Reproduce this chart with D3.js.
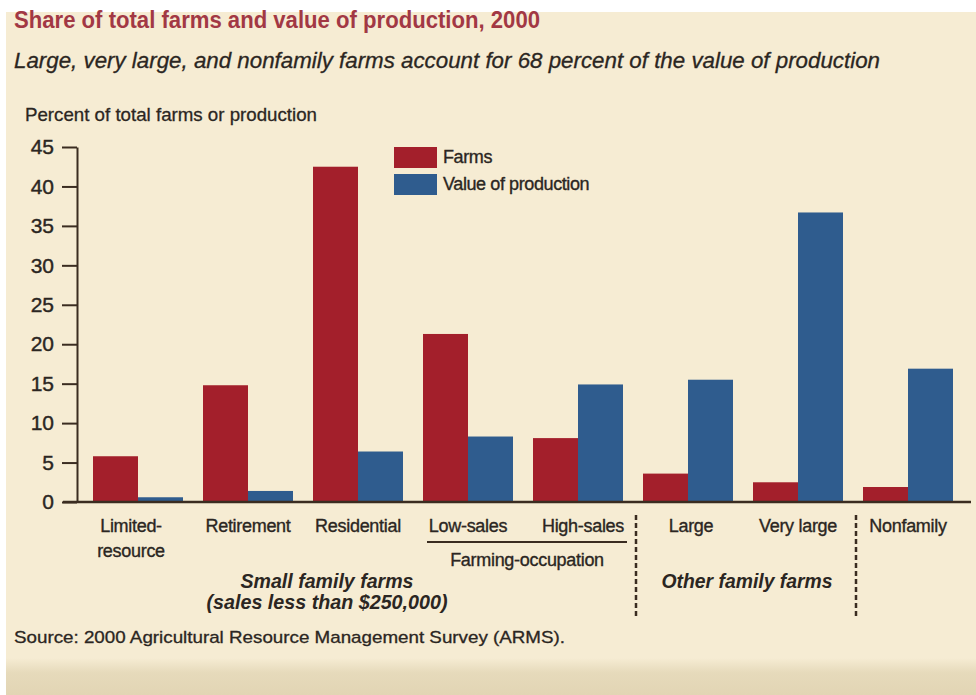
<!DOCTYPE html>
<html>
<head>
<meta charset="utf-8">
<script src="https://cdn.jsdelivr.net/npm/d3@7"></script>
<style>
  html, body { margin: 0; padding: 0; background: #ffffff; }
  svg { display: block; font-family: "Liberation Sans", Arial, sans-serif; }
</style>
</head>
<body>
<svg id="chart" width="976" height="695"></svg>
<script>
// ---- data ----
const categories = ["Limited-resource", "Retirement", "Residential", "Low-sales", "High-sales", "Large", "Very large", "Nonfamily"];
const categoryLines = [["Limited-", "resource"], ["Retirement"], ["Residential"], ["Low-sales"], ["High-sales"], ["Large"], ["Very large"], ["Nonfamily"]];
const farms = [5.8, 14.8, 42.5, 21.3, 8.1, 3.6, 2.5, 1.9];
const valueOfProduction = [0.6, 1.4, 6.4, 8.3, 14.9, 15.5, 36.7, 16.9];
const seriesNames = ["Farms", "Value of production"];
const yTicks = [0, 5, 10, 15, 20, 25, 30, 35, 40, 45];

const titleText = "Share of total farms and value of production, 2000";
const subtitleText = "Large, very large, and nonfamily farms account for 68 percent of the value of production";
const yTitleText = "Percent of total farms or production";
const sourceText = "Source: 2000 Agricultural Resource Management Survey (ARMS).";

// ---- styles ----
const RED = "#a31f2b", BLUE = "#2f5c8e", CREAM = "#f6ecd3", INK = "#2b2622", AXIS = "#3a2c20";

const svg = d3.select("#chart");
const defs = svg.append("defs");
const grad = defs.append("linearGradient").attr("id", "strip").attr("x1", 0).attr("x2", 0).attr("y1", 0).attr("y2", 1);
grad.append("stop").attr("offset", "0").attr("stop-color", CREAM);
grad.append("stop").attr("offset", "0.4").attr("stop-color", "#e6dabb");
grad.append("stop").attr("offset", "1").attr("stop-color", "#e2d5b4");

// background panels
svg.append("rect").attr("x", 0).attr("y", 0).attr("width", 976).attr("height", 695).attr("fill", "#ffffff");
svg.append("rect").attr("x", 6).attr("y", 12).attr("width", 970).attr("height", 683).attr("fill", CREAM);
svg.append("rect").attr("x", 6).attr("y", 658).attr("width", 970).attr("height", 37).attr("fill", "url(#strip)");

function fit(sel, w) {
  sel.attr("textLength", w).attr("lengthAdjust", "spacingAndGlyphs");
  return sel;
}
function heavy(sel, w) {
  return sel.attr("stroke", INK).attr("stroke-width", w || 0.35);
}

// titles
fit(svg.append("text").attr("x", 14).attr("y", 28).attr("font-size", 23).attr("font-weight", "bold")
  .attr("fill", "#a23844").text(titleText), 526);
heavy(fit(svg.append("text").attr("x", 14).attr("y", 68).attr("font-size", 22).attr("font-style", "italic")
  .attr("fill", INK).text(subtitleText), 866), 0.3);
heavy(fit(svg.append("text").attr("x", 25).attr("y", 121).attr("font-size", 19)
  .attr("fill", INK).text(yTitleText), 292), 0.3);

// scales
const x = d3.scaleBand().domain(categories).range([83, 963]).paddingInner(20 / 110).paddingOuter(10 / 110);
const sub = d3.scaleBand().domain(seriesNames).range([0, x.bandwidth()]);
const y = d3.scaleLinear().domain([0, 45]).range([502, 147]);
const color = d3.scaleOrdinal().domain(seriesNames).range([RED, BLUE]);

const rows = categories.map((c, i) => ({ cat: c, vals: [
  { key: seriesNames[0], v: farms[i] },
  { key: seriesNames[1], v: valueOfProduction[i] }
]}));

// bars
const g = svg.append("g");
g.selectAll("g.grp").data(rows).join("g").attr("class", "grp")
  .attr("transform", d => `translate(${x(d.cat)},0)`)
  .selectAll("rect").data(d => d.vals).join("rect")
  .attr("x", d => sub(d.key))
  .attr("width", sub.bandwidth())
  .attr("y", d => y(d.v))
  .attr("height", d => y(0) - y(d.v))
  .attr("fill", d => color(d.key));

// y axis
const yAxis = svg.append("g").attr("transform", "translate(77,0)")
  .call(d3.axisLeft(y).tickValues(yTicks).tickSize(15).tickPadding(8).tickSizeOuter(0));
yAxis.select(".domain").attr("stroke", AXIS).attr("stroke-width", 2);
yAxis.selectAll(".tick line").attr("stroke", AXIS).attr("stroke-width", 2);
yAxis.selectAll(".tick text").attr("font-size", 21).attr("fill", INK)
  .attr("stroke", INK).attr("stroke-width", 0.4)
  .attr("font-family", "'Liberation Sans', Arial, sans-serif");

// baseline (x axis)
svg.append("line")
  .attr("x1", x.range()[0] - 20).attr("x2", x.range()[1] + 8)
  .attr("y1", y(0)).attr("y2", y(0))
  .attr("stroke", AXIS).attr("stroke-width", 2.5);

// category labels
const labelShift = { "Limited-resource": -7, "High-sales": 5, "Large": 3 };
categories.forEach((c, i) => {
  const cx = x(c) + x.bandwidth() / 2 + (labelShift[c] || 0);
  categoryLines[i].forEach((ln, j) => {
    heavy(svg.append("text").attr("x", cx).attr("y", 532 + j * 25)
      .attr("text-anchor", "middle").attr("font-size", 18).attr("fill", INK)
      .attr("letter-spacing", -0.3).text(ln));
  });
});

// farming-occupation bracket
const lowX = x("Low-sales"), highX = x("High-sales") + x.bandwidth();
svg.append("line").attr("x1", lowX + 4).attr("x2", highX + 4).attr("y1", 542).attr("y2", 542)
  .attr("stroke", AXIS).attr("stroke-width", 2);
heavy(svg.append("text").attr("x", (lowX + highX) / 2 + 4).attr("y", 566).attr("text-anchor", "middle")
  .attr("font-size", 18).attr("fill", INK).attr("letter-spacing", -0.3).text("Farming-occupation"));

// group labels
const smallCenter = (x("Limited-resource") + x("High-sales") + x.bandwidth()) / 2 - 31;
fit(svg.append("text").attr("x", smallCenter).attr("y", 588).attr("text-anchor", "middle")
  .attr("font-size", 20).attr("font-weight", "bold").attr("font-style", "italic").attr("fill", INK)
  .text("Small family farms"), 173);
fit(svg.append("text").attr("x", smallCenter).attr("y", 609).attr("text-anchor", "middle")
  .attr("font-size", 20).attr("font-weight", "bold").attr("font-style", "italic").attr("fill", INK)
  .text("(sales less than $250,000)"), 241);
const otherCenter = (x("Large") + x("Very large") + x.bandwidth()) / 2 + 4;
fit(svg.append("text").attr("x", otherCenter).attr("y", 588).attr("text-anchor", "middle")
  .attr("font-size", 20).attr("font-weight", "bold").attr("font-style", "italic").attr("fill", INK)
  .text("Other family farms"), 171);

// dashed separators
[["High-sales", "Large"], ["Very large", "Nonfamily"]].forEach(([a, b]) => {
  const sx = (x(a) + x.bandwidth() + x(b)) / 2 + 3;
  svg.append("line").attr("x1", sx).attr("x2", sx).attr("y1", 515).attr("y2", 616)
    .attr("stroke", AXIS).attr("stroke-width", 2.5).attr("stroke-dasharray", "5,3");
});

// legend
const legend = svg.append("g").attr("transform", "translate(394,147)");
seriesNames.forEach((s, i) => {
  legend.append("rect").attr("x", 0).attr("y", i * 27).attr("width", 43).attr("height", 21).attr("fill", color(s));
  heavy(legend.append("text").attr("x", 49).attr("y", i * 27 + 16).attr("font-size", 18).attr("fill", INK)
    .attr("letter-spacing", -0.4).text(s));
});

// source
heavy(fit(svg.append("text").attr("x", 14).attr("y", 643).attr("font-size", 17).attr("fill", INK)
  .text(sourceText), 551), 0.3);
</script>
</body>
</html>
